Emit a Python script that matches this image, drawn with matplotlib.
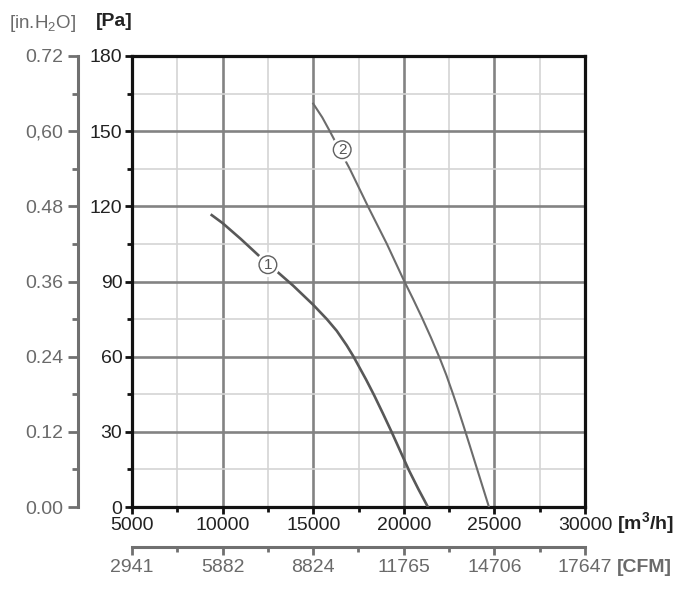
import numpy as np
import matplotlib
matplotlib.use("Agg")
import matplotlib.pyplot as plt
from matplotlib.ticker import FixedLocator

plt.rcParams['font.family'] = ['Liberation Sans', 'DejaVu Sans']
plt.rcParams['mathtext.fontset'] = 'custom'
plt.rcParams['mathtext.rm'] = 'Liberation Sans'
plt.rcParams['mathtext.bf'] = 'Liberation Sans:bold'

# fan curves, airflow [m3/h] vs static pressure [Pa]
flow_1 = [9400, 10000, 11000, 12000, 13000, 13900, 15000, 15750, 16300, 16850,
          17220, 17930, 18370, 18850, 19350, 19800, 20280, 20800, 21330]
pres_1 = [116.5, 113.3, 107, 100.3, 94, 88.3, 80.7, 75, 70.3, 64.5,
          60.1, 50.7, 44.5, 37.3, 29.6, 22.4, 14.7, 7.2, 0]
flow_2 = [15000, 15500, 15915, 16500, 17015, 18020, 19065, 20000, 20500,
          21000, 21500, 22000, 22350, 22700, 23000, 23300, 23650, 24000, 24350, 24700]
pres_2 = [161, 155.5, 150, 142, 135, 120, 105, 90.5, 83.2,
          75.6, 67.6, 59.1, 52.6, 45.4, 39, 32.3, 24.3, 16.2, 8.1, 0]
curve_labels = ['1', '2']
label_pos = [(12500, 96.7), (16600, 142.6)]

pa_ticks = [0, 30, 60, 90, 120, 150, 180]
inh2o_ticks = [0.0, 0.12, 0.24, 0.36, 0.48, 0.60, 0.72]
inh2o_labels = ['0.00', '0.12', '0.24', '0.36', '0.48', '0,60', '0.72']
flow_ticks = [5000, 10000, 15000, 20000, 25000, 30000]
cfm_labels = ['2941', '5882', '8824', '11765', '14706', '17647']

W, H = 700, 596
fig = plt.figure(figsize=(W / 100, H / 100), dpi=100)
pos = [132 / W, 1 - 507 / H, 453 / W, 451 / H]

GRID_DARK = '#838383'
GRID_LIGHT = '#d4d4d4'
GRAY_TXT = '#6a6a6a'
FS = 14

ax = fig.add_axes(pos)
ax.set_xlim(5000, 30000)
ax.set_ylim(0, 180)
ax.set_xticks(flow_ticks)
ax.set_xticklabels([str(v) for v in flow_ticks])
ax.xaxis.set_minor_locator(FixedLocator(np.arange(7500, 30000, 5000)))
ax.set_yticks(pa_ticks)
ax.yaxis.set_minor_locator(FixedLocator(np.arange(15, 180, 30)))
ax.grid(which='major', color=GRID_DARK, lw=1.9)
ax.grid(which='minor', color=GRID_LIGHT, lw=1.2)
ax.set_axisbelow(True)
for s in ax.spines.values():
    s.set_linewidth(2.3)
    s.set_color('#111111')
ax.tick_params(which='major', length=5, width=2, color='#111111',
               labelsize=FS, pad=2, labelcolor='#222222')
ax.tick_params(which='minor', length=3.5, width=2, color='#111111')

ax.plot(flow_1, pres_1, color='#585858', lw=1.9, zorder=3)
ax.plot(flow_2, pres_2, color='#6c6c6c', lw=1.5, zorder=3)
for lab, (xp, yp) in zip(curve_labels, label_pos):
    # white halo leaves a small gap in the curve around the marker
    ax.text(xp, yp, lab, ha='center', va='center', fontsize=11, color='white',
            zorder=4, bbox=dict(boxstyle='circle,pad=0.35', fc='white', ec='none'))
    ax.text(xp, yp, lab, ha='center', va='center', fontsize=11, color='#555555',
            zorder=5,
            bbox=dict(boxstyle='circle,pad=0.12', fc='white', ec='#606060', lw=1.0))

# second pressure scale [in.H2O]
ax_in = fig.add_axes(pos)
ax_in.patch.set_visible(False)
for k in ['top', 'right', 'bottom']:
    ax_in.spines[k].set_visible(False)
ax_in.spines['left'].set_position(('axes', -54 / 453))
ax_in.spines['left'].set_color('#707070')
ax_in.spines['left'].set_linewidth(2.2)
ax_in.set_xticks([])
ax_in.set_ylim(0, 0.72)
ax_in.set_yticks(inh2o_ticks)
ax_in.set_yticklabels(inh2o_labels)
ax_in.yaxis.set_minor_locator(FixedLocator(np.arange(0.06, 0.72, 0.12)))
ax_in.tick_params(which='major', length=7.5, width=2, color='#707070',
                  labelsize=FS, labelcolor=GRAY_TXT, pad=3)
ax_in.tick_params(which='minor', length=4, width=2, color='#707070')

# second flow scale [CFM]
ax_cfm = fig.add_axes(pos)
ax_cfm.patch.set_visible(False)
for k in ['top', 'right', 'left']:
    ax_cfm.spines[k].set_visible(False)
ax_cfm.spines['bottom'].set_position(('axes', -40 / 451))
ax_cfm.spines['bottom'].set_color('#707070')
ax_cfm.spines['bottom'].set_linewidth(2.2)
ax_cfm.set_yticks([])
ax_cfm.set_xlim(5000 / 1.7, 30000 / 1.7)
ax_cfm.set_xticks([v / 1.7 for v in flow_ticks])
ax_cfm.set_xticklabels(cfm_labels)
ax_cfm.xaxis.set_minor_locator(FixedLocator([v / 1.7 for v in np.arange(7500, 30000, 5000)]))
ax_cfm.tick_params(which='major', length=5.5, width=2, color='#707070',
                   labelsize=FS, labelcolor=GRAY_TXT, pad=3)
ax_cfm.tick_params(which='minor', length=3.5, width=2, color='#707070')

# unit labels
fig.text(9 / W, 1 - 23 / H, r'[in.H$_\mathrm{2}$O]', fontsize=13.5, color=GRAY_TXT,
         ha='left', va='center')
fig.text(96 / W, 1 - 22 / H, '[Pa]', fontsize=14, fontweight='bold', color='#222222',
         ha='left', va='center')
fig.text(617 / W, 1 - 524 / H, r'[m$^\mathbf{3}$/h]', fontsize=14, fontweight='bold',
         color='#222222', ha='left', va='center')
fig.text(617 / W, 1 - 568 / H, '[CFM]', fontsize=14, fontweight='bold', color=GRAY_TXT,
         ha='left', va='center')

fig.savefig('out.png', dpi=100, facecolor='white')
